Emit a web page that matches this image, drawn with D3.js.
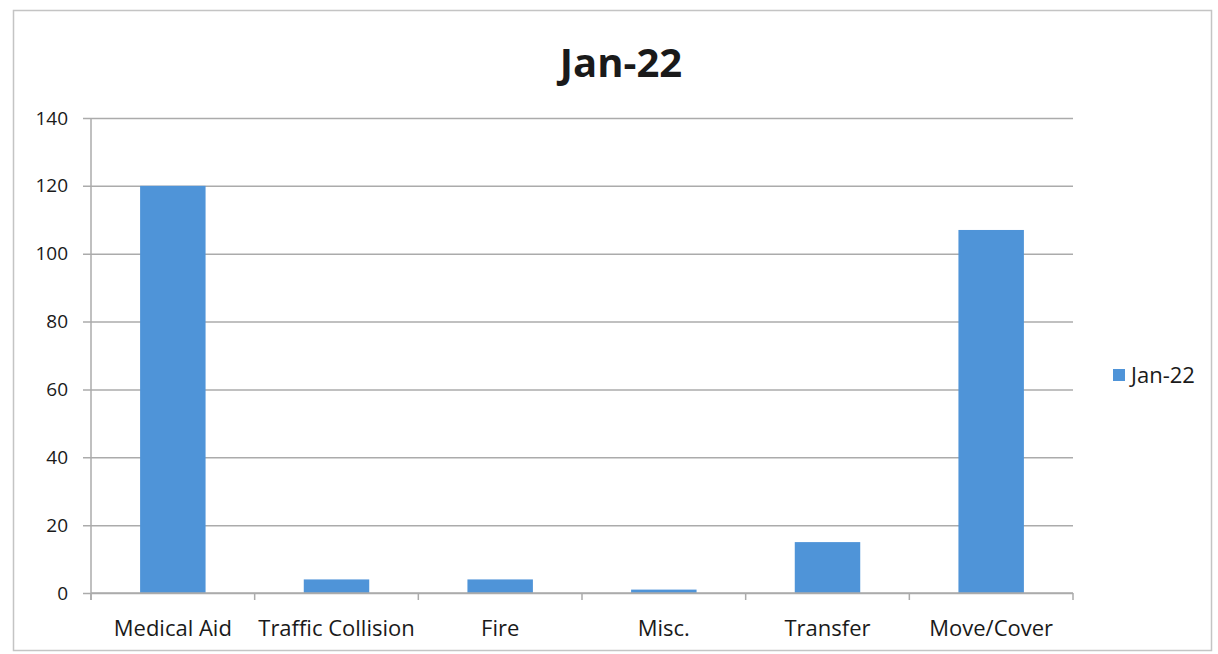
<!DOCTYPE html>
<html>
<head>
<meta charset="utf-8">
<script src="https://cdn.jsdelivr.net/npm/d3@7"></script>
<style>
  html, body { margin: 0; padding: 0; background: #fff; }
  svg { display: block; }
  text { font-family: "Open Sans", "Noto Sans", sans-serif; fill: #1a1a1a; }
</style>
</head>
<body>
<svg id="chart" width="1218" height="654"></svg>
<script>
// Incident counts for January 2022
const categories = ["Medical Aid", "Traffic Collision", "Fire", "Misc.", "Transfer", "Move/Cover"];
const seriesName = "Jan-22";
const values = [120, 4, 4, 1, 15, 107];
const yTicks = [0, 20, 40, 60, 80, 100, 120, 140];

const svg = d3.select("#chart");
const margin = { left: 91, right: 1073, top: 118, bottom: 593 };
const barColor = "#4f94d8";
const gridColor = "#ababab";

// outer chart frame
svg.append("rect")
  .attr("x", 13.5).attr("y", 10.5)
  .attr("width", 1198).attr("height", 640)
  .attr("fill", "none").attr("stroke", "#c4c4c4").attr("stroke-width", 1.5);

const x = d3.scaleBand()
  .domain(categories)
  .range([margin.left, margin.right])
  .paddingInner(0.6)
  .paddingOuter(0.3);

const xTickScale = d3.scaleLinear()
  .domain([0, categories.length])
  .range([margin.left, margin.right]);

const y = d3.scaleLinear()
  .domain([0, 140])
  .range([margin.bottom, margin.top]);

// horizontal gridlines with left tick marks
const yAxis = d3.axisLeft(y)
  .tickValues(yTicks)
  .tickSize(-(margin.right - margin.left))
  .tickPadding(23)
  .tickFormat(d3.format("d"));

const gy = svg.append("g")
  .attr("transform", `translate(${margin.left},0)`)
  .call(yAxis);
gy.select(".domain").remove();
gy.selectAll(".tick line")
  .attr("x1", -8)
  .attr("stroke", gridColor)
  .attr("stroke-width", 1.5);
gy.selectAll(".tick text")
  .attr("font-size", 19)
  .attr("fill", "#1a1a1a")
  .style("font-family", "'Open Sans', sans-serif");

// vertical axis line
svg.append("line")
  .attr("x1", margin.left).attr("x2", margin.left)
  .attr("y1", margin.top).attr("y2", margin.bottom + 7)
  .attr("stroke", gridColor).attr("stroke-width", 1.5);

// bars
svg.append("g")
  .selectAll("rect")
  .data(values)
  .join("rect")
  .attr("x", (d, i) => x(categories[i]))
  .attr("width", x.bandwidth())
  .attr("y", d => y(d))
  .attr("height", d => y(0) - y(d))
  .attr("fill", barColor);

// category axis
const xAxisG = svg.append("g")
  .attr("transform", `translate(0,${margin.bottom})`);
xAxisG.append("line")
  .attr("x1", margin.left).attr("x2", margin.right)
  .attr("stroke", gridColor).attr("stroke-width", 1.5);
xAxisG.selectAll("line.cat-tick")
  .data(d3.range(categories.length + 1))
  .join("line")
  .attr("class", "cat-tick")
  .attr("x1", d => xTickScale(d)).attr("x2", d => xTickScale(d))
  .attr("y1", 0).attr("y2", 7)
  .attr("stroke", gridColor).attr("stroke-width", 1.5);
xAxisG.selectAll("text")
  .data(categories)
  .join("text")
  .attr("x", d => x(d) + x.bandwidth() / 2)
  .attr("y", 43)
  .attr("text-anchor", "middle")
  .attr("font-size", 22)
  .text(d => d);

// title
svg.append("text")
  .attr("x", 621).attr("y", 77)
  .attr("text-anchor", "middle")
  .attr("font-size", 40)
  .attr("font-weight", "bold")
  .text(seriesName);

// legend
const legend = svg.append("g").attr("transform", "translate(1113,369)");
legend.append("rect")
  .attr("width", 12).attr("height", 12)
  .attr("fill", barColor);
legend.append("text")
  .attr("x", 18).attr("y", 14)
  .attr("font-size", 22)
  .text(seriesName);
</script>
</body>
</html>
